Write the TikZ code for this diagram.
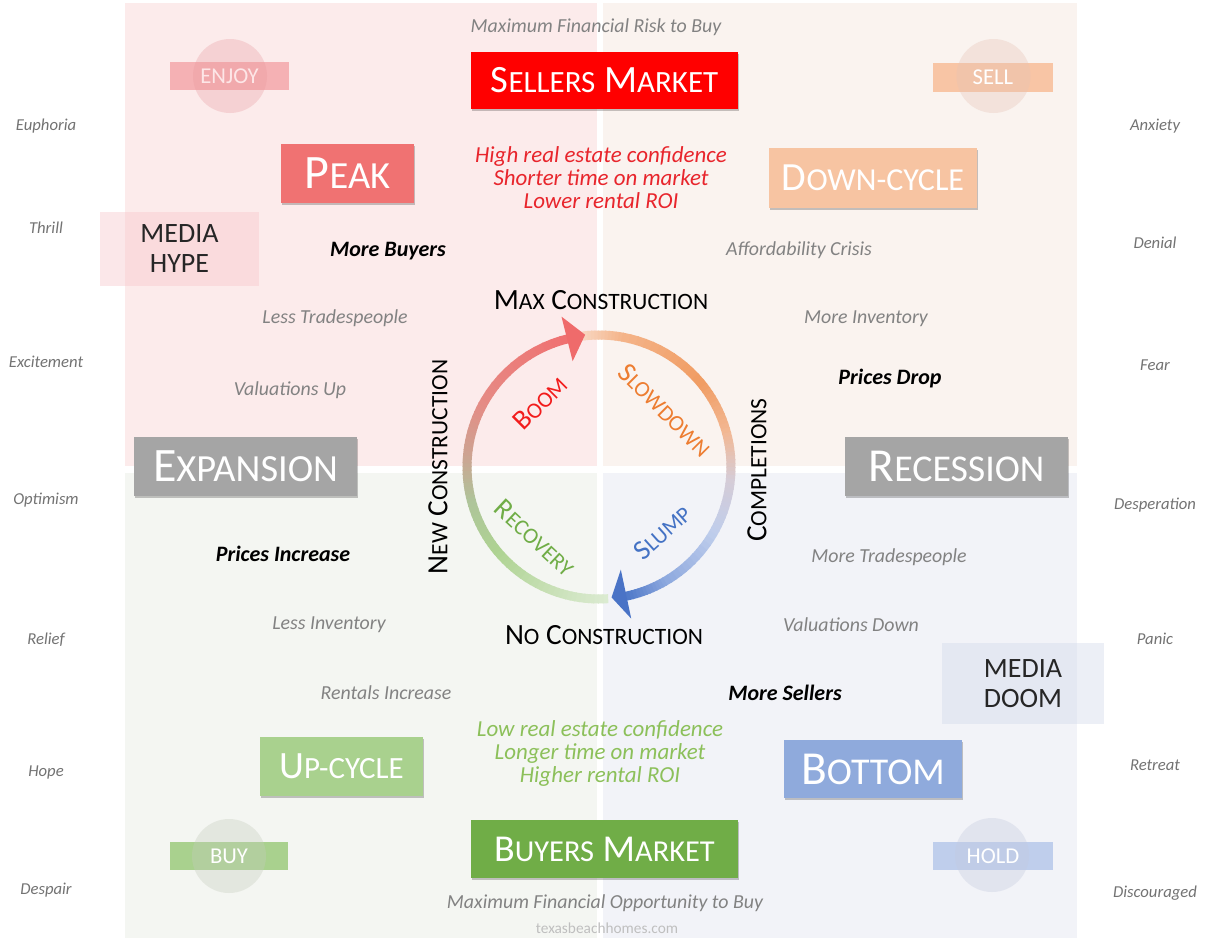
\documentclass[tikz,border=0pt]{standalone}
\usepackage{fontspec}
\setmainfont{Carlito}
\usetikzlibrary{shadows,calc}
\makeatletter
\newcommand\sm[1]{\pgfmathsetmacro\smsz{0.8*\f@size}{\fontsize{\smsz}{\smsz}\selectfont #1}}
\makeatother
\definecolor{qtl}{HTML}{FCEBEB}
\definecolor{qtr}{HTML}{FAF3EF}
\definecolor{qbl}{HTML}{F4F6F2}
\definecolor{qbr}{HTML}{F2F3F8}
\definecolor{sellred}{HTML}{FF0000}
\definecolor{peakc}{HTML}{F07272}
\definecolor{downc}{HTML}{F7C4A2}
\definecolor{greyc}{HTML}{A5A5A5}
\definecolor{upc}{HTML}{A9D18E}
\definecolor{botc}{HTML}{8FAADC}
\definecolor{buyc}{HTML}{70AD47}
\definecolor{notegray}{HTML}{828282}
\definecolor{sidegray}{HTML}{737373}
\definecolor{hired}{HTML}{E8252C}
\definecolor{logreen}{HTML}{8CC05A}
\definecolor{enjoyband}{HTML}{F5B1B4}
\definecolor{enjoycirc}{HTML}{E8979C}
\definecolor{enjoytxt}{HTML}{FDE6E7}
\definecolor{sellband}{HTML}{F8C5A5}
\definecolor{sellcirc}{HTML}{E6C3B6}
\definecolor{buyband}{HTML}{A9D18E}
\definecolor{buycirc}{HTML}{C5CDBD}
\definecolor{holdband}{HTML}{BFCEEC}
\definecolor{holdcirc}{HTML}{C3C9DE}
\definecolor{hypebox}{HTML}{F7C3C8}
\definecolor{doombox}{HTML}{D5DCEC}
\definecolor{boomc}{HTML}{F21C1C}
\definecolor{slowc}{HTML}{ED7D31}
\definecolor{slumpc}{HTML}{4472C4}
\definecolor{recc}{HTML}{70AD47}
\definecolor{webc}{HTML}{BFBFBF}
\definecolor{arrred}{HTML}{EF6B6B}
\definecolor{arrblue}{HTML}{4A73C6}
% ring colour stops
\definecolor{g0}{HTML}{DCEBD2}
\definecolor{g1}{HTML}{C9E1B8}
\definecolor{g2}{HTML}{AED392}
\definecolor{g3}{HTML}{AEC49A}
\definecolor{r0}{HTML}{CDA392}
\definecolor{r1}{HTML}{E68A84}
\definecolor{r2}{HTML}{F07070}
\definecolor{o0}{HTML}{F8D8C4}
\definecolor{o1}{HTML}{F4B48A}
\definecolor{o2}{HTML}{F09C62}
\definecolor{o3}{HTML}{F2B894}
\definecolor{b0}{HTML}{D6CCD6}
\definecolor{b1}{HTML}{BFCDEC}
\definecolor{b2}{HTML}{8DA8DE}
\definecolor{b3}{HTML}{4E78C8}
\newcommand\ringpart[4]{%
  \foreach \k in {1,...,12}{%
    \pgfmathsetmacro\aa{#1+(#2-#1)*(\k-1)/12}%
    \pgfmathsetmacro\ab{#1+(#2-#1)*\k/12+0.5}%
    \pgfmathtruncatemacro\pp{100*(\k-0.5)/12}%
    \draw[ringline, draw=#4!\pp!#3] ($(C)+(\aa:132)$) -- ($(C)+(\ab:132)$);
  }}
\tikzset{
  bigbox/.style={inner sep=0pt, text=white, drop shadow={shadow xshift=0.6pt, shadow yshift=-1.5pt, opacity=0.22, fill=black}},
  band/.style={inner sep=0pt},
  badge/.style={circle, inner sep=0pt, minimum size=55.5pt},
  badgetxt/.style={inner sep=0pt, font=\fontsize{17}{17}\selectfont},
  note/.style={font=\fontsize{14.9}{15}\selectfont\itshape, text=notegray, yshift=-2pt},
  side/.style={font=\fontsize{12.5}{13}\selectfont\itshape, text=sidegray, yshift=-1pt},
  keytxt/.style={font=\fontsize{16.5}{17}\selectfont\bfseries\itshape, text=black, yshift=-2pt},
  ringlbl/.style={font=\fontsize{21}{21}\selectfont},
  axislbl/.style={font=\fontsize{22}{22}\selectfont, text=black},
  mediabox/.style={inner sep=0pt, align=center, text=black!85, font=\fontsize{21}{22.5}\selectfont},
  conf/.style={align=center, font=\fontsize{17.2}{17.25}\selectfont\itshape},
  ringline/.style={line width=6.75pt}
}
\begin{document}
\begin{tikzpicture}[x=0.75pt,y=-0.75pt]
\fill[white] (0,0) rectangle (1205,947);
\useasboundingbox (0,0) rectangle (1205,947);
% quadrants
\fill[qtl] (125,3) rectangle (597,466);
\fill[qtr] (603,3) rectangle (1077,466);
\fill[qbl] (125,473) rectangle (597,938);
\fill[qbr] (603,473) rectangle (1077,938);

% badges
\node[band, fill=enjoyband, minimum width=89.25pt, minimum height=21pt] (enjoyb) at (229.5,76) {};
\node[badge, fill=enjoycirc, fill opacity=.3] (enjoyc) at (230,76) {};
\node[badgetxt, text=enjoytxt] (enjoy) at (229.5,76) {ENJOY};
\node[band, fill=sellband, minimum width=90pt, minimum height=21.75pt] (sellb) at (993,77.5) {};
\node[badge, fill=sellcirc, fill opacity=.35] (sellc) at (993.5,76) {};
\node[badgetxt, text=white] (sell) at (993,77.5) {SELL};
\node[band, fill=buyband, minimum width=88.5pt, minimum height=21pt] (buyb) at (229,856) {};
\node[badge, fill=buycirc, fill opacity=.35] (buyc) at (229,856) {};
\node[badgetxt, text=white] (buy) at (229,856) {BUY};
\node[band, fill=holdband, minimum width=90pt, minimum height=21pt] (holdb) at (993,856) {};
\node[badge, fill=holdcirc, fill opacity=.35] (holdc) at (992,855) {};
\node[badgetxt, text=white] (hold) at (993,856) {HOLD};

% media boxes
\node[mediabox, fill=hypebox, fill opacity=.4, text opacity=1, minimum width=119.25pt, minimum height=55.5pt] (hype) at (179.5,249) {MEDIA\\HYPE};
\node[mediabox, fill=doombox, fill opacity=.45, text opacity=1, minimum width=121.5pt, minimum height=60.75pt] (doom) at (1023,683.5) {MEDIA\\DOOM};

% big boxes
\node[bigbox, fill=sellred, minimum width=200.25pt, minimum height=42.75pt, font=\fontsize{29}{29}\selectfont] (sellers) at (604.5,80.5) {S\sm{ELLERS} M\sm{ARKET}};
\node[bigbox, fill=peakc, minimum width=99.75pt, minimum height=44.25pt, font=\fontsize{36}{36}\selectfont] (peak) at (347.5,173.5) {P\sm{EAK}};
\node[bigbox, fill=downc, minimum width=156pt, minimum height=45pt, font=\fontsize{30}{30}\selectfont] (down) at (873,178) {D\sm{OWN-CYCLE}};
\node[bigbox, fill=greyc, minimum width=167.25pt, minimum height=44.25pt, font=\fontsize{36}{36}\selectfont] (expansion) at (245.5,466.5) {E\sm{XPANSION}};
\node[bigbox, fill=greyc, minimum width=167.25pt, minimum height=44.25pt, font=\fontsize{35.5}{35.5}\selectfont] (recession) at (956.5,466.5) {R\sm{ECESSION}};
\node[bigbox, fill=upc, minimum width=122.25pt, minimum height=44.25pt, font=\fontsize{29}{29}\selectfont] (up) at (341.5,766.5) {U\sm{P-CYCLE}};
\node[bigbox, fill=botc, minimum width=133.5pt, minimum height=43.5pt, font=\fontsize{35.5}{35.5}\selectfont] (bottom) at (873,769) {B\sm{OTTOM}};
\node[bigbox, fill=buyc, minimum width=200.25pt, minimum height=43.5pt, font=\fontsize{28.5}{28.5}\selectfont] (buyers) at (604.5,849) {B\sm{UYERS} M\sm{ARKET}};

% top / bottom notes
\node[note] (risk) at (596,25) {Maximum Financial Risk to Buy};
\node[conf, text=hired] (hiconf) at (601,178) {High real estate confidence\\Shorter time on market\\Lower rental ROI};
\node[conf, text=logreen] (loconf) at (600,753) {Low real estate confidence\\Longer time on market\\Higher rental ROI};
\node[note] (opp) at (605,901) {Maximum Financial Opportunity to Buy};
\node[font=\fontsize{11.5}{12}\selectfont, text=webc] (web) at (607,928) {texasbeachhomes.com};

% quadrant notes
\node[keytxt] (morebuy) at (388,248) {More Buyers};
\node[note] (lesstrade) at (335,316) {Less Tradespeople};
\node[note] (valup) at (290,388) {Valuations Up};
\node[note] (afford) at (799,248) {Affordability Crisis};
\node[note] (moreinv) at (866,316) {More Inventory};
\node[keytxt] (pdrop) at (890,376) {Prices Drop};
\node[keytxt] (pinc) at (283,551) {Prices Increase};
\node[note] (lessinv) at (329,622) {Less Inventory};
\node[note] (rentinc) at (386,690) {Rentals Increase};
\node[note] (moretrade) at (889,555) {More Tradespeople};
\node[note] (valdown) at (851,622) {Valuations Down};
\node[keytxt] (moresell) at (785,690) {More Sellers};

% side emotions
\node[side] (l1) at (46,125) {Euphoria};
\node[side] (l2) at (46,226) {Thrill};
\node[side] (l3) at (46,360) {Excitement};
\node[side] (l4) at (46,499) {Optimism};
\node[side] (l5) at (46,638) {Relief};
\node[side] (l6) at (46,771) {Hope};
\node[side] (l7) at (46,889) {Despair};
\node[side] (r1) at (1155,125) {Anxiety};
\node[side] (r2) at (1155,241) {Denial};
\node[side] (r3) at (1155,364) {Fear};
\node[side] (r4) at (1155,504) {Desperation};
\node[side] (r5) at (1155,637) {Panic};
\node[side] (r6) at (1155,764) {Retreat};
\node[side] (r7) at (1155,892) {Discouraged};

% cycle ring
\coordinate (C) at (599,467);
\ringpart{86}{110}{g0}{g1}
\ringpart{110}{140}{g1}{g2}
\ringpart{140}{165}{g2}{g3}
\ringpart{165}{185}{g3}{r0}
\ringpart{185}{210}{r0}{r1}
\ringpart{210}{257}{r1}{r2}
\ringpart{262}{280}{o0}{o1}
\ringpart{280}{320}{o1}{o2}
\ringpart{320}{345}{o2}{o3}
\ringpart{345}{365}{o3}{b0}
\ringpart{5}{30}{b0}{b1}
\ringpart{30}{60}{b1}{b2}
\ringpart{60}{78}{b2}{b3}
\fill[arrred] ($(C)+(256:155)$) -- ($(C)+(264:133)$) -- ($(C)+(256:109)$) -- cycle;
\fill[arrblue] ($(C)+(78:155)$) -- ($(C)+(84.5:131)$) -- ($(C)+(78:105)$) -- cycle;

% ring labels
\node[ringlbl, text=boomc, rotate=45] (boom) at (540,403) {B\sm{OOM}};
\node[ringlbl, text=slowc, rotate=-45] (slow) at (665,410) {S\sm{LOWDOWN}};
\node[ringlbl, text=slumpc, rotate=42] (slump) at (662,532) {S\sm{LUMP}};
\node[ringlbl, text=recc, rotate=-43] (recov) at (535,538) {R\sm{ECOVERY}};

% axis labels
\node[axislbl] (maxc) at (601,300) {M\sm{AX} C\sm{ONSTRUCTION}};
\node[axislbl] (noc) at (604,635) {N\sm{O} C\sm{ONSTRUCTION}};
\node[axislbl, rotate=90] (newc) at (438,467) {N\sm{EW} C\sm{ONSTRUCTION}};
\node[axislbl, rotate=90] (comp) at (757,470) {C\sm{OMPLETIONS}};
\end{tikzpicture}
\end{document}
